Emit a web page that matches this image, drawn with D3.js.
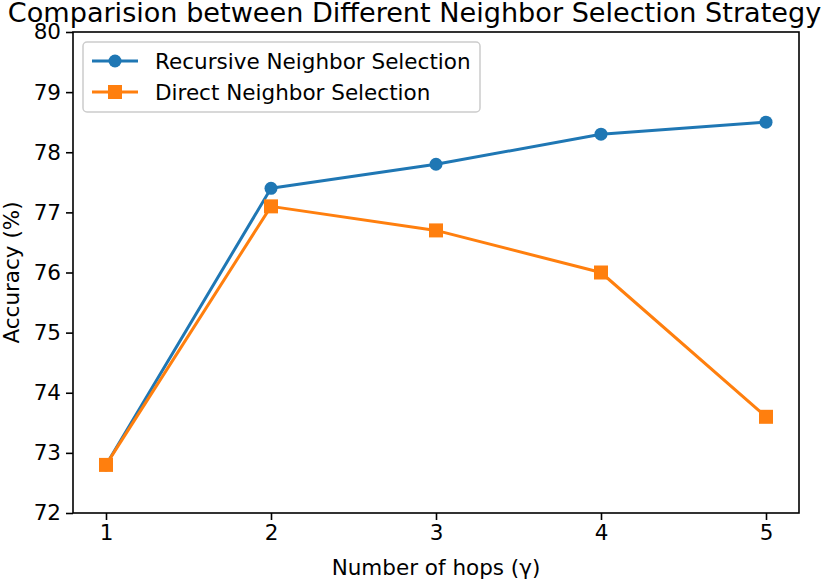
<!DOCTYPE html>
<html><head><meta charset="utf-8">
<script src="https://cdn.jsdelivr.net/npm/d3@7"></script>
<style>body{margin:0;background:#fff}text{font-family:"DejaVu Sans",sans-serif}</style>
</head><body><svg id="c" width="829" height="580"></svg>
<script>
const hops = [1, 2, 3, 4, 5];
const recursive = [72.8, 77.4, 77.8, 78.3, 78.5];
const direct = [72.8, 77.1, 76.7, 76.0, 73.6];
const yTicks = [72, 73, 74, 75, 76, 77, 78, 79, 80];
const seriesNames = ["Recursive Neighbor Selection", "Direct Neighbor Selection"];
const colors = ["#1f77b4", "#ff7f0e"];

const svg = d3.select("#c");
const L = 73, R = 799, T = 32, B = 513;
const x = d3.scaleLinear().domain([0.8, 5.2]).range([L, R]);
const y = d3.scaleLinear().domain([72, 80]).range([B, T]);

// axes
const fs = 21.5;
const xa = svg.append("g").attr("transform", `translate(0,${B})`)
  .call(d3.axisBottom(x).tickValues(hops).tickFormat(d3.format("d")).tickSize(7).tickPadding(5));
const ya = svg.append("g").attr("transform", `translate(${L},0)`)
  .call(d3.axisLeft(y).tickValues(yTicks).tickFormat(d3.format("d")).tickSize(7).tickPadding(5));
[xa, ya].forEach(a => {
  a.select(".domain").remove();
  a.selectAll("line").attr("stroke", "#000").attr("stroke-width", 1.6);
  a.selectAll("text").attr("font-size", fs).attr("fill", "#000").attr("font-family", "DejaVu Sans");
});
svg.append("rect").attr("x", L).attr("y", T).attr("width", R - L).attr("height", B - T)
  .attr("fill", "none").attr("stroke", "#000").attr("stroke-width", 1.6);

// lines
const line = d3.line().x((d, i) => x(hops[i])).y(d => y(d));
[recursive, direct].forEach((s, k) => {
  svg.append("path").datum(s).attr("d", line).attr("fill", "none")
    .attr("stroke", colors[k]).attr("stroke-width", 3).attr("stroke-linejoin", "round");
});
// markers
svg.selectAll(".m0").data(recursive).enter().append("circle")
  .attr("cx", (d, i) => x(hops[i])).attr("cy", d => y(d)).attr("r", 6.5).attr("fill", colors[0]);
svg.selectAll(".m1").data(direct).enter().append("rect")
  .attr("x", (d, i) => x(hops[i]) - 7).attr("y", d => y(d) - 7)
  .attr("width", 14).attr("height", 14).attr("fill", colors[1]);

// title & labels
svg.append("text").attr("x", 414.5).attr("y", 22).attr("text-anchor", "middle")
  .attr("font-size", 27.1).text("Comparision between Different Neighbor Selection Strategy");
svg.append("text").attr("x", (L + R) / 2).attr("y", 575).attr("text-anchor", "middle")
  .attr("font-size", fs).text("Number of hops (γ)");
svg.append("text").attr("transform", `translate(19,${(T + B) / 2}) rotate(-90)`)
  .attr("text-anchor", "middle").attr("font-size", fs).text("Accuracy (%)");

// legend
const lg = svg.append("g");
lg.append("rect").attr("x", 83).attr("y", 42).attr("width", 397).attr("height", 70).attr("rx", 4)
  .attr("fill", "#fff").attr("fill-opacity", 0.8).attr("stroke", "#ccc").attr("stroke-width", 1.5);
seriesNames.forEach((n, k) => {
  const yy = 61 + k * 31;
  lg.append("line").attr("x1", 92).attr("x2", 138).attr("y1", yy).attr("y2", yy)
    .attr("stroke", colors[k]).attr("stroke-width", 3);
  if (k === 0) lg.append("circle").attr("cx", 115).attr("cy", yy).attr("r", 6.5).attr("fill", colors[k]);
  else lg.append("rect").attr("x", 108).attr("y", yy - 7).attr("width", 14).attr("height", 14).attr("fill", colors[k]);
  lg.append("text").attr("x", 155).attr("y", yy + 7.5).attr("font-size", fs).text(n);
});
</script></body></html>
